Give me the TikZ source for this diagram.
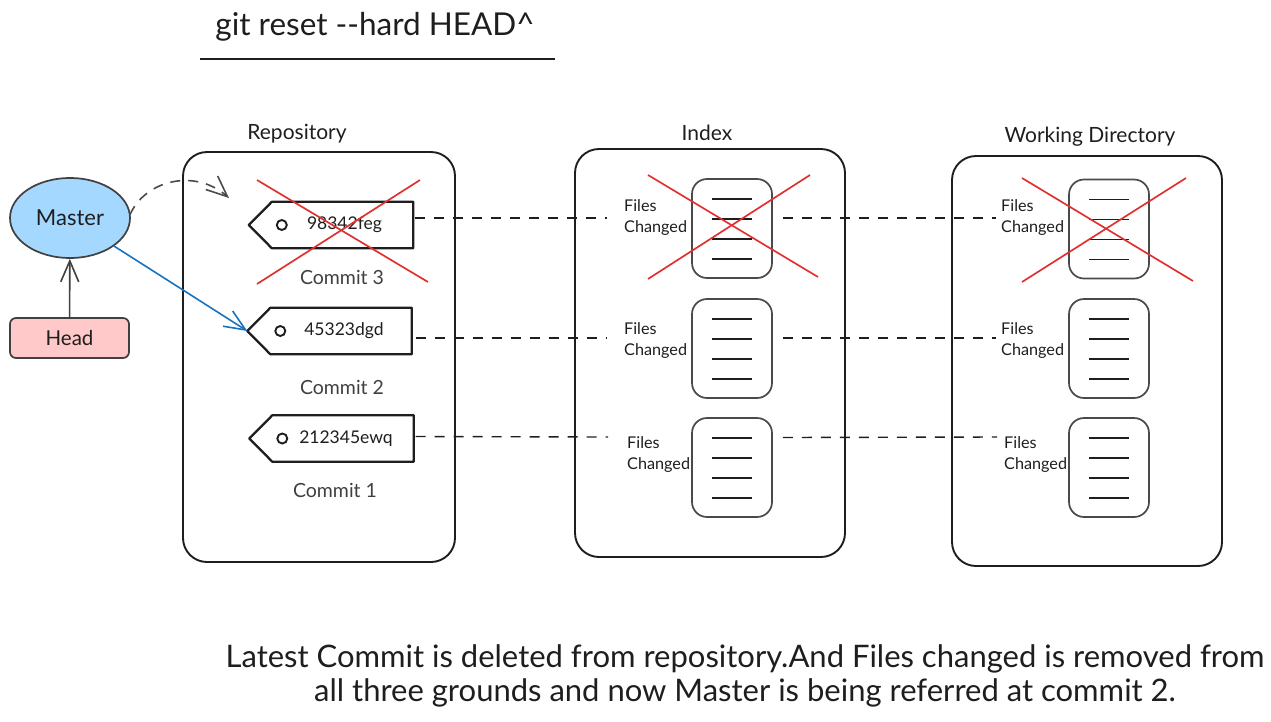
\documentclass[tikz,border=0pt]{standalone}
\usepackage{fontspec}
\setmainfont{Lato}
\usetikzlibrary{calc,arrows.meta,shapes.geometric}
\definecolor{ink}{HTML}{1E1E1E}
\definecolor{boxgray}{HTML}{4A4A4A}
\definecolor{mfill}{HTML}{A5D8FF}
\definecolor{hfill}{HTML}{FFC9C9}
\definecolor{xred}{HTML}{E03131}
\definecolor{arrblue}{HTML}{1971C2}
\tikzset{
  area/.style={draw=ink, line width=1.9pt, rounded corners=24pt},
  filebox/.style={draw=boxgray, line width=1.7pt, rounded corners=15pt, minimum width=80pt, minimum height=99pt},
  tagbody/.style={minimum width=141pt, minimum height=46pt, inner sep=0pt, font=\fontsize{17.5}{20}\selectfont, text=ink},
  tagline/.style={draw=ink, line width=2.3pt, line join=round},
  lbl/.style={font=\fontsize{21}{24}\selectfont, text=ink},
  cmt/.style={font=\fontsize{19.5}{22}\selectfont, text=ink!85},
  fc/.style={font=\fontsize{16.2}{21}\selectfont, text=ink, align=left, inner sep=0pt},
  link/.style={draw=ink, line width=1.4pt, dash pattern=on 10pt off 9pt},
  cross/.style={draw=xred, line width=1.7pt},
  barb/.style={-{Straight Barb[length=21pt,width=18pt]}},
}
\begin{document}
\begin{tikzpicture}[x=1pt,y=-1pt]
\useasboundingbox (0,0) rectangle (1271,721);

% title
\node[font=\fontsize{31.5}{36}\selectfont, text=ink] (title) at (375,27) {git reset -{}-hard HEAD\textasciicircum};
\draw[ink, line width=1.6pt] (200,59) -- (555,59);

% areas
\node[lbl] (lrepo) at (297,134) {Repository};
\node[lbl] (lidx) at (707,133) {Index};
\node[lbl] (lwd) at (1090,137) {Working Directory};
\draw[area] (183,152) rectangle (455,562);
\draw[area] (575,149) rectangle (845,557);
\draw[area] (952,156) rectangle (1222,566);

% master / head
\node[ellipse, draw=ink!85, line width=1.7pt, fill=mfill, minimum width=120pt, minimum height=80pt, font=\fontsize{22}{24}\selectfont, text=ink] (master) at (70,218) {Master};
\node[draw=ink!85, line width=1.7pt, fill=hfill, rounded corners=6pt, minimum width=119pt, minimum height=40pt, font=\fontsize{20.5}{24}\selectfont, text=ink] (head) at (69.5,338) {Head};
\draw[ink!85, line width=1.6pt, barb] (head) -- (master);

% tags
\node[tagbody] (tag3) at (342.5,225) {\hspace*{4pt}98342feg};
\node[tagbody] (tag2) at (341,331) {\hspace*{6pt}45323dgd};
\node[tagbody] (tag1) at (343,438.5) {\hspace*{6pt}212345ewq};
\foreach \t in {tag3,tag2,tag1}{
  \draw[tagline] (\t.north west) -- (\t.north east) -- (\t.south east) -- (\t.south west) -- ($(\t.west)+(-23,0)$) coordinate (\t tip) -- cycle;
  \draw[ink, line width=1.9pt] ($(\t.west)+(10,0)$) circle (5pt);
}
\node[cmt] (c3) at (342,277) {Commit 3};
\node[cmt] (c2) at (342,387) {Commit 2};
\node[cmt] (c1) at (335,490) {Commit 1};

% master arrows
\coordinate (dashend) at (229,198);
\draw[ink!80, line width=1.6pt, dash pattern=on 10pt off 8pt, barb] ($(master.east)+(-1,-3)$) .. controls (145,180) and (195,168) .. (dashend);
\draw[arrblue, line width=1.6pt, barb] (master) -- (tag2tip);

% file boxes
\foreach \n/\x/\y in {i1/732/228.5, i2/732/348.5, i3/732/467.5, w1/1109/229, w2/1109/348.5, w3/1109/467.5}{
  \node[filebox] (f\n) at (\x,\y) {};
  \foreach \d in {-29.5,-9.5,10.5,30.5}
    \draw[ink, line width=1.1pt] ($(f\n.center)+(-20,\d)$) -- ($(f\n.center)+(20,\d)$);
}

% files changed labels
\node[fc, anchor=west] (li1) at (624,218) {Files\\Changed};
\node[fc, anchor=west] (li2) at (624,341) {Files\\Changed};
\node[fc, anchor=west] (li3) at (627,455) {Files\\Changed};
\node[fc, anchor=west] (lw1) at (1001,218) {Files\\Changed};
\node[fc, anchor=west] (lw2) at (1001,341) {Files\\Changed};
\node[fc, anchor=west] (lw3) at (1004,455) {Files\\Changed};

% dashed links
\draw[link] (tag3.east) ++(2,-7) -- ($(li1.west)+(-17,0)$);
\draw[link] (tag2.east) ++(4,7) -- ($(li2.west)+(-17,-3)$);
\draw[link] (tag1.east) ++(2,-2) -- ($(li3.west)+(-19,-18)$);
\draw[link] (fi1.east) ++(10,-10.5) -- ($(lw1.west)+(-5,0)$);
\draw[link] (fi2.east) ++(10,-10.5) -- ($(lw2.west)+(-5,-3)$);
\draw[link] (fi3.east) ++(10,-30) -- ($(lw3.west)+(-7,-18)$);

% crosses
\draw[cross] (257,180) -- (428,282);
\draw[cross] (420,180) -- (257,284);
\draw[cross] (648,175) -- (818,277);
\draw[cross] (810,175) -- (648,279);
\draw[cross] (1022,178) -- (1193,281);
\draw[cross] (1186,178) -- (1022,282);

% bottom text
\node[font=\fontsize{31}{34}\selectfont, text=ink, align=center] (note) at (745,676) {Latest Commit is deleted from repository.And Files changed is removed from\\all three grounds and now Master is being referred at commit 2.};
\end{tikzpicture}
\end{document}
